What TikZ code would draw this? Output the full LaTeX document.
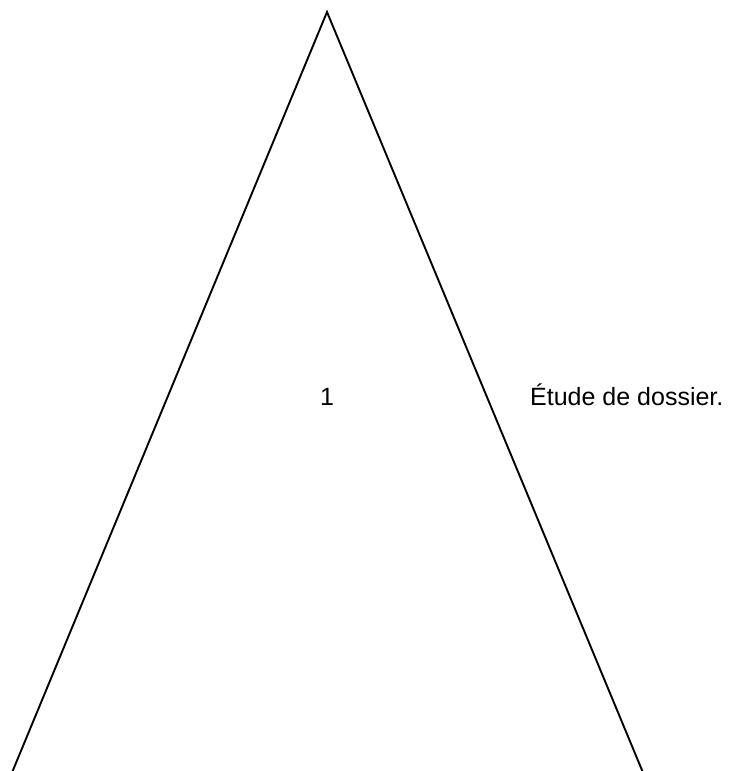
\documentclass[tikz,border=0pt]{standalone}
\usepackage{fontspec}
\setmainfont{Liberation Sans}
\tikzset{edge/.style={line width=1.9pt, line join=miter, line cap=butt},
  lbl/.style={inner sep=0pt, font=\fontsize{25}{30}\selectfont}}
\begin{document}
\begin{tikzpicture}[x=1pt,y=-1pt]
\useasboundingbox (0,0) rectangle (737,771);
\coordinate (apex) at (327,12);
\coordinate (bl) at (11,775);
\coordinate (br) at (644,775);
\draw[edge] (bl) -- (apex) -- (br);
\node[lbl, anchor=base] (num) at (327,405) {1};
\node[lbl, anchor=base west] (txt) at (530,405) {Étude de dossier.};
\end{tikzpicture}
\end{document}
